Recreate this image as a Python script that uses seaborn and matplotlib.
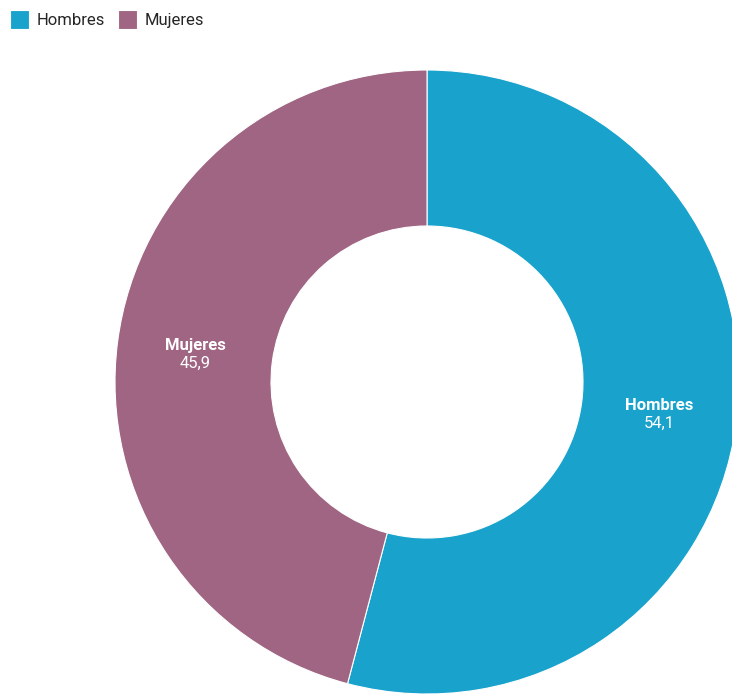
import matplotlib
matplotlib.use("Agg")
import matplotlib.pyplot as plt
import seaborn as sns
import numpy as np

# Data
categorias = ["Hombres", "Mujeres"]
valores = [54.1, 45.9]
colores = ["#19A3CC", "#9F6582"]

sns.set_theme(style="white")
plt.rcParams['font.family'] = ['Roboto', 'DejaVu Sans']

fig = plt.figure(figsize=(7.32, 6.94), dpi=100)
ax = fig.add_axes([115 / 732, 0 / 694, 624 / 732, 624 / 694])

paleta = sns.color_palette(colores)
wedges, _ = ax.pie(valores, colors=paleta, startangle=90, counterclock=False,
                   radius=1.0, wedgeprops=dict(width=0.5, edgecolor="white", linewidth=0.8))
ax.set_xlim(-1, 1)
ax.set_ylim(-1, 1)
ax.set_aspect("equal")

# labels at the middle of each ring segment
for w, cat, val in zip(wedges, categorias, valores):
    ang = np.deg2rad((w.theta1 + w.theta2) / 2)
    x = 0.75 * np.cos(ang)
    y = 0.75 * np.sin(ang)
    ax.text(x, y + 0.02, cat, ha="center", va="center", color="white",
            fontsize=12, fontweight="bold")
    ax.text(x, y - 0.035, f"{val:.1f}".replace(".", ","), ha="center", va="center",
            color="white", fontsize=12)

fig.legend(wedges, categorias, loc="upper left", bbox_to_anchor=(0.0, 1.0),
           ncol=2, frameon=False, fontsize=12, handlelength=1.15, handleheight=1.35,
           handletextpad=0.45, columnspacing=0.75, borderaxespad=0.2)

fig.savefig("out.png", dpi=100)
